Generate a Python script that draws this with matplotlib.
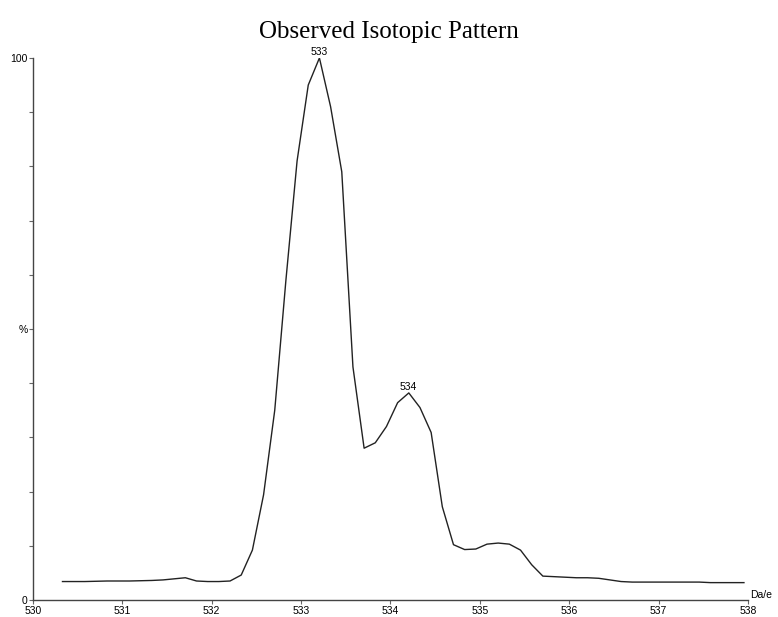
import matplotlib
matplotlib.use("Agg")
import matplotlib.pyplot as plt

# =========================
# data
# =========================
mz = [530.33 + 0.125 * k for k in range(62)]
intensity = [
    3.4, 3.4, 3.4, 3.45, 3.5, 3.5, 3.5, 3.55, 3.6, 3.7,
    3.9, 4.1, 3.5, 3.4, 3.4, 3.5, 4.6, 9.2, 19.4, 35.0,
    59.0, 81.0, 95.0, 100.0, 91.0, 79.0, 43.0, 28.0, 29.0, 32.0,
    36.4, 38.2, 35.5, 30.9, 17.2, 10.2, 9.3, 9.4, 10.3, 10.5,
    10.3, 9.2, 6.5, 4.4, 4.3, 4.2, 4.1, 4.1, 4.0, 3.7,
    3.4, 3.3, 3.3, 3.3, 3.3, 3.3, 3.3, 3.3, 3.2, 3.2,
    3.2, 3.2,
]
peak_labels = ["533", "534"]
peak_mz = [533.2, 534.2]
peak_int = [100.0, 38.2]

x_ticks = [530, 531, 532, 533, 534, 535, 536, 537, 538]
y_ticks = list(range(0, 101, 10))

# =========================
# figure
# =========================
fig = plt.figure(figsize=(7.78, 6.17), dpi=100)
ax = fig.add_axes([0.0424, 0.0276, 0.9190, 0.8785])

ax.plot(mz, intensity, color="#222222", lw=1.0)

for lab, x, y in zip(peak_labels, peak_mz, peak_int):
    ax.annotate(lab, (x, y), xytext=(0, 1), textcoords="offset points",
                ha="center", va="bottom", fontsize=7.5, family="Liberation Sans")

ax.set_xlim(530, 538)
ax.set_ylim(0, 100)

for s in ["top", "right"]:
    ax.spines[s].set_visible(False)
for s in ["left", "bottom"]:
    ax.spines[s].set_color("#444444")
    ax.spines[s].set_linewidth(1.0)

ax.set_xticks(x_ticks)
ax.set_xticklabels([str(t) for t in x_ticks], fontsize=7.5, family="Liberation Sans")
ax.tick_params(axis="x", length=3, pad=1, color="#666666")

ax.set_yticks(y_ticks)
ax.set_yticklabels(["0" if t == 0 else "100" if t == 100 else "%" if t == 50 else ""
                    for t in y_ticks], fontsize=7.5, family="Liberation Sans")
ax.tick_params(axis="y", length=3, pad=1, color="#666666")

ax.text(1.003, 0.0, "Da/e", transform=ax.transAxes, fontsize=7.5,
        family="Liberation Sans", ha="left", va="bottom")

fig.text(0.5, 0.948, "Observed Isotopic Pattern", ha="center", va="center",
         fontsize=18, family="Liberation Serif")

plt.savefig("out.png", dpi=100)
